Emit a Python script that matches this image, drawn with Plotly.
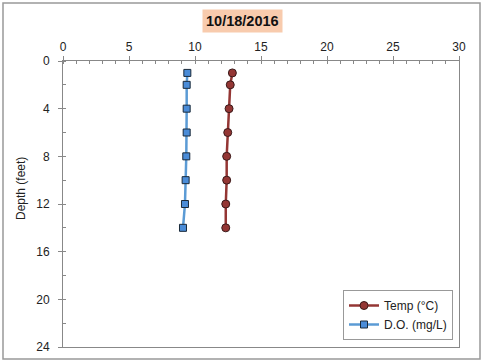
import plotly.graph_objects as go

depth = [1, 2, 4, 6, 8, 10, 12, 14]
temp = [12.83, 12.67, 12.58, 12.48, 12.40, 12.40, 12.33, 12.33]
do = [9.42, 9.37, 9.37, 9.37, 9.34, 9.29, 9.24, 9.09]

W, H = 483, 362
L, R, T, B = 63, 24, 61, 15
pw, ph = W - L - R, H - T - B

def px(x):
    return (x - L) / pw

def py(y):
    return (H - B - y) / ph

fig = go.Figure()
fig.add_trace(go.Scatter(
    x=temp, y=depth, name="Temp (°C)", mode="lines+markers",
    line=dict(color="#943634", width=2.5),
    marker=dict(symbol="circle", size=8, color="#943634", line=dict(color="#3a1a1a", width=1)),
))
fig.add_trace(go.Scatter(
    x=do, y=depth, name="D.O. (mg/L)", mode="lines+markers",
    line=dict(color="#5B9BD5", width=2.5),
    marker=dict(symbol="square", size=7, color="#4A8CD8", line=dict(color="#1a2a3a", width=1)),
))

fig.update_layout(
    width=W, height=H,
    margin=dict(l=L, r=R, t=T, b=B, autoexpand=False),
    paper_bgcolor="white", plot_bgcolor="white",
    font=dict(family="Liberation Sans, Arial, sans-serif", size=12, color="#222"),
    showlegend=True,
    legend=dict(x=px(453), y=py(340), xanchor="right", yanchor="bottom",
                bordercolor="#999", borderwidth=1, bgcolor="white",
                font=dict(size=12), tracegroupgap=0, itemwidth=30),
)
fig.update_xaxes(
    range=[0, 30], side="top", dtick=5, showgrid=False, zeroline=False,
    showline=True, linecolor="#888", linewidth=1, mirror=True,
    ticks="outside", ticklen=4, tickcolor="#888", automargin=False,
    minor=dict(dtick=1, ticks="inside", ticklen=3, tickcolor="#888", showgrid=False),
)
fig.update_yaxes(
    range=[24, 0], dtick=4, showgrid=False, zeroline=False,
    showline=True, linecolor="#888", linewidth=1, mirror=True,
    ticks="outside", ticklen=4, tickcolor="#888", automargin=False,
    ticklabelstandoff=6,
    minor=dict(dtick=2, ticks="inside", ticklen=3, tickcolor="#888", showgrid=False),
)
fig.add_annotation(
    x=px(21), y=py(189), xref="paper", yref="paper", text="Depth (feet)",
    textangle=-90, showarrow=False, xanchor="center", yanchor="middle",
    font=dict(size=12, color="#222"),
)
fig.add_annotation(
    x=px(242), y=py(21), xref="paper", yref="paper", text="<b>10/18/2016</b>",
    showarrow=False, xanchor="center", yanchor="middle",
    bgcolor="#F8CBAD", font=dict(size=14.5, color="#111"),
    borderpad=3,
)
fig.add_shape(type="rect", xref="paper", yref="paper",
              x0=px(3), x1=px(480), y0=py(359), y1=py(3),
              line=dict(color="#999", width=1.5), fillcolor="rgba(0,0,0,0)")
fig.write_html("out.html", config={"displayModeBar": False},
               post_script="document.body.style.margin='0';document.body.style.overflow='hidden';")
